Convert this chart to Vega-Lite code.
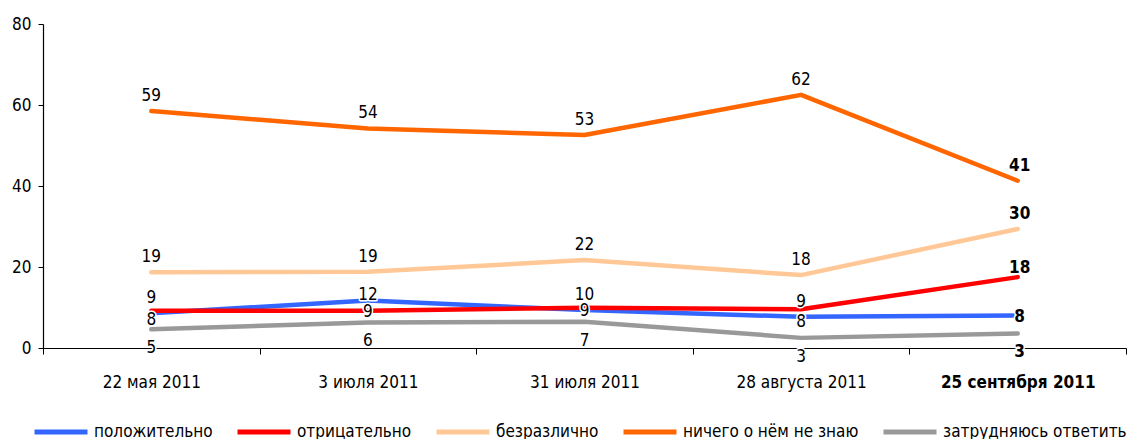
{
  "$schema": "https://vega.github.io/schema/vega-lite/v6.json",
  "width": 1083,
  "height": 324,
  "autosize": "none",
  "padding": {"left": 43, "top": 24, "right": 5, "bottom": 91},
  "background": "white",
  "config": {
    "font": "DejaVu Sans Condensed, Liberation Sans, sans-serif",
    "view": {"stroke": null},
    "axis": {"grid": false, "domainColor": "black", "tickColor": "black", "labelColor": "black", "labelFontSize": 17, "title": null, "domainWidth": 1.2, "tickWidth": 1}
  },
  "data": {"values": [
    {"date": "22 мая 2011", "series": "положительно", "value": 8.6, "label": 8},
    {"date": "3 июля 2011", "series": "положительно", "value": 11.7, "label": 12},
    {"date": "31 июля 2011", "series": "положительно", "value": 9.4, "label": 9},
    {"date": "28 августа 2011", "series": "положительно", "value": 7.7, "label": 8},
    {"date": "25 сентября 2011", "series": "положительно", "value": 8.0, "label": 8},
    {"date": "22 мая 2011", "series": "отрицательно", "value": 9.2, "label": 9},
    {"date": "3 июля 2011", "series": "отрицательно", "value": 9.2, "label": 9},
    {"date": "31 июля 2011", "series": "отрицательно", "value": 9.95, "label": 10},
    {"date": "28 августа 2011", "series": "отрицательно", "value": 9.55, "label": 9},
    {"date": "25 сентября 2011", "series": "отрицательно", "value": 17.5, "label": 18},
    {"date": "22 мая 2011", "series": "безразлично", "value": 18.7, "label": 19},
    {"date": "3 июля 2011", "series": "безразлично", "value": 18.8, "label": 19},
    {"date": "31 июля 2011", "series": "безразлично", "value": 21.7, "label": 22},
    {"date": "28 августа 2011", "series": "безразлично", "value": 18.0, "label": 18},
    {"date": "25 сентября 2011", "series": "безразлично", "value": 29.4, "label": 30},
    {"date": "22 мая 2011", "series": "ничего о нём не знаю", "value": 58.5, "label": 59},
    {"date": "3 июля 2011", "series": "ничего о нём не знаю", "value": 54.2, "label": 54},
    {"date": "31 июля 2011", "series": "ничего о нём не знаю", "value": 52.6, "label": 53},
    {"date": "28 августа 2011", "series": "ничего о нём не знаю", "value": 62.5, "label": 62},
    {"date": "25 сентября 2011", "series": "ничего о нём не знаю", "value": 41.3, "label": 41},
    {"date": "22 мая 2011", "series": "затрудняюсь ответить", "value": 4.6, "label": 5},
    {"date": "3 июля 2011", "series": "затрудняюсь ответить", "value": 6.3, "label": 6},
    {"date": "31 июля 2011", "series": "затрудняюсь ответить", "value": 6.5, "label": 7},
    {"date": "28 августа 2011", "series": "затрудняюсь ответить", "value": 2.5, "label": 3},
    {"date": "25 сентября 2011", "series": "затрудняюсь ответить", "value": 3.6, "label": 3}
  ]},
  "encoding": {
    "x": {
      "field": "date", "type": "nominal",
      "sort": ["22 мая 2011", "3 июля 2011", "31 июля 2011", "28 августа 2011", "25 сентября 2011"],
      "scale": {"type": "band", "paddingInner": 0, "paddingOuter": 0},
      "axis": {
        "tickBand": "extent", "labelAngle": 0, "tickSize": 6, "labelPadding": 20,
        "labelFontWeight": {"condition": {"test": "datum.value === '25 сентября 2011'", "value": "bold"}, "value": "normal"}
      }
    },
    "y": {
      "field": "value", "type": "quantitative",
      "scale": {"domain": [0, 80], "nice": false},
      "axis": {"values": [0, 20, 40, 60, 80], "tickSize": 5, "labelPadding": 7}
    }
  },
  "layer": [
    {
      "mark": {"type": "line", "strokeWidth": 4.5, "strokeCap": "round", "strokeJoin": "round"},
      "encoding": {
        "color": {
          "field": "series", "type": "nominal",
          "scale": {
            "domain": ["положительно", "отрицательно", "безразлично", "ничего о нём не знаю", "затрудняюсь ответить"],
            "range": ["#3366ff", "#ff0000", "#ffc896", "#ff6600", "#999999"]
          },
          "legend": {
            "orient": "none", "legendX": -11, "legendY": 379, "direction": "horizontal",
            "title": null, "symbolType": "stroke", "symbolSize": 2809, "symbolStrokeWidth": 5,
            "labelFontSize": 17, "labelColor": "black", "labelOffset": 4, "columnPadding": 14, "labelLimit": 0
          }
        }
      }
    },
    {
      "mark": {
        "type": "text", "fontSize": 17, "stroke": "white", "strokeWidth": 3, "fill": "white", "strokeJoin": "round",
        "fontWeight": {"expr": "datum.date === '25 сентября 2011' ? 'bold' : 'normal'"},
        "dx": {"expr": "datum.date === '25 сентября 2011' ? 2 : 0"},
        "dy": {"expr": "datum.series === 'ничего о нём не знаю' || datum.series === 'безразлично' ? -15 : datum.series === 'затрудняюсь ответить' ? 19 : datum.series === 'положительно' ? (datum.date === '22 мая 2011' ? 7 : datum.date === '3 июля 2011' ? -6 : datum.date === '28 августа 2011' ? 5 : 1) : (datum.date === '3 июля 2011' ? 1 : datum.date === '28 августа 2011' ? -7 : datum.date === '25 сентября 2011' ? -9 : -13)"}
      },
      "encoding": {"text": {"field": "label"}}
    },
    {
      "mark": {
        "type": "text", "fontSize": 17, "fill": "black",
        "fontWeight": {"expr": "datum.date === '25 сентября 2011' ? 'bold' : 'normal'"},
        "dx": {"expr": "datum.date === '25 сентября 2011' ? 2 : 0"},
        "dy": {"expr": "datum.series === 'ничего о нём не знаю' || datum.series === 'безразлично' ? -15 : datum.series === 'затрудняюсь ответить' ? 19 : datum.series === 'положительно' ? (datum.date === '22 мая 2011' ? 7 : datum.date === '3 июля 2011' ? -6 : datum.date === '28 августа 2011' ? 5 : 1) : (datum.date === '3 июля 2011' ? 1 : datum.date === '28 августа 2011' ? -7 : datum.date === '25 сентября 2011' ? -9 : -13)"}
      },
      "encoding": {"text": {"field": "label"}}
    }
  ]
}
